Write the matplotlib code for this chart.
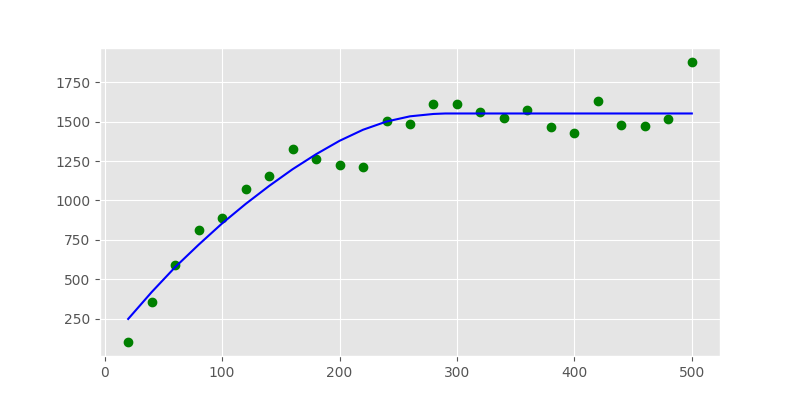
import matplotlib
matplotlib.use('Agg')
import matplotlib.pyplot as plt

plt.style.use('ggplot')

# measured points
x_data = [20, 40, 60, 80, 100, 120, 140, 160, 180, 200, 220, 240, 260,
          280, 300, 320, 340, 360, 380, 400, 420, 440, 460, 480, 500]
y_data = [104, 357, 592, 813, 889, 1073, 1155, 1326, 1263, 1225, 1212, 1505, 1486,
          1613, 1613, 1562, 1524, 1575, 1465, 1427, 1632, 1478, 1471, 1516, 1877]

# fitted curve
x_fit = [20, 40, 60, 80, 100, 120, 140, 160, 180, 200, 220, 240, 260,
         280, 290, 300, 320, 340, 360, 380, 400, 420, 440, 460, 480, 500]
y_fit = [250, 420, 578, 720, 855, 978, 1092, 1198, 1293, 1378, 1448, 1500, 1533,
         1548, 1551, 1551, 1551, 1551, 1551, 1551, 1551, 1551, 1551, 1551, 1551, 1551]

fig = plt.figure(figsize=(8, 4), dpi=100)
plt.plot(x_data, y_data, 'go')
plt.plot(x_fit, y_fit, 'b-', linewidth=1.5)
plt.savefig('out.png')
plt.close()
